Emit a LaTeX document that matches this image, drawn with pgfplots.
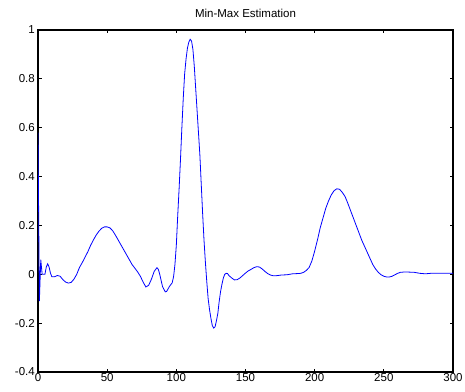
\documentclass[border=0pt]{standalone}
\usepackage{pgfplots}
\pgfplotsset{compat=1.18}
\usepackage{fontspec}
\setmainfont{Liberation Sans}
\begin{document}
\begin{tikzpicture}
\begin{axis}[
  scale only axis,
  width=415pt, height=342pt,
  xmin=0, xmax=300, ymin=-0.4, ymax=1,
  xtick={0,50,100,150,200,250,300},
  ytick={-0.4,-0.2,0,0.2,0.4,0.6,0.8,1},
  xticklabels={0,50,100,150,200,250,300},
  yticklabels={-0.4,-0.2,0,0.2,0.4,0.6,0.8,1},
  tick align=inside,
  major tick length=3.5pt,
  tick style={black, line width=0.8pt},
  axis line style={black, line width=1.2pt},
  ticklabel style={font=\fontsize{11.5}{13}\selectfont},
  xticklabel style={inner sep=1pt},
  yticklabel style={inner sep=3pt},
  title={Min-Max Estimation},
  title style={font=\fontsize{11.5}{13}\selectfont, at={(0.5,1)}, anchor=south, inner sep=0pt, yshift=6pt},
  clip=true,
]
\addplot[blue, line width=0.8pt, no marks] coordinates {
(0,0.58) (1,-0.11) (2,0.06) (3,0.0) (4,0.0) (5,0.0) (6,0.03) (7,0.043) (8,0.03) (9,0.005) (10,-0.01)
(12,-0.01) (14,-0.005) (16,-0.008) (18,-0.022) (20,-0.032) (22,-0.036) (24,-0.033) (26,-0.02) (28,0.0)
(30,0.028) (32,0.048) (34,0.07) (36,0.092) (38,0.118) (40,0.14) (42,0.16) (44,0.176) (46,0.188) (48,0.194)
(50,0.194) (52,0.19) (54,0.178) (56,0.16) (58,0.14) (60,0.12) (62,0.1) (64,0.08) (66,0.06) (68,0.04)
(70,0.025) (72,0.01) (74,-0.008) (76,-0.032) (78,-0.052) (80,-0.045) (82,-0.02) (84,0.012) (86,0.027)
(87,0.02) (88,0.0) (90,-0.05) (92,-0.072) (93,-0.07) (95,-0.05) (97,-0.035) (98,-0.01) (99,0.04)
(100,0.12) (101,0.24) (102,0.35) (103,0.47) (104,0.6) (105,0.72) (106,0.82) (107,0.88) (108,0.925)
(109,0.95) (110,0.962) (111,0.955) (112,0.92) (113,0.85) (114,0.76) (115,0.67) (116,0.58) (117,0.49)
(118,0.37) (119,0.25) (120,0.14) (121,0.05) (122,-0.03) (123,-0.1) (124,-0.145) (125,-0.18) (126,-0.21)
(127,-0.22) (128,-0.215) (129,-0.19) (130,-0.16) (131,-0.11) (132,-0.07) (133,-0.04) (134,-0.015)
(135,0.0) (136,0.004) (137,0.003) (138,-0.005) (140,-0.015) (142,-0.023) (144,-0.022) (146,-0.015)
(148,-0.005) (150,0.005) (152,0.014) (154,0.02) (156,0.027) (158,0.031) (160,0.03) (162,0.022)
(164,0.012) (166,0.003) (168,-0.003) (170,-0.006) (172,-0.006) (176,-0.003) (180,-0.002) (184,0.002)
(188,0.003) (190,0.004) (192,0.008) (194,0.016) (196,0.028) (198,0.055) (200,0.095) (202,0.14)
(204,0.19) (206,0.23) (208,0.27) (210,0.3) (212,0.325) (214,0.342) (216,0.35) (218,0.348) (220,0.335)
(222,0.318) (224,0.29) (226,0.26) (228,0.23) (230,0.2) (232,0.17) (234,0.14) (236,0.115) (238,0.09)
(240,0.065) (242,0.04) (244,0.022) (246,0.008) (248,-0.002) (250,-0.008) (252,-0.011) (254,-0.011)
(256,-0.008) (258,-0.002) (260,0.004) (262,0.008) (264,0.009) (268,0.009) (272,0.008) (276,0.004)
(280,0.002) (284,0.004) (290,0.004) (296,0.004) (300,0.004)
};
\end{axis}
\pgfresetboundingbox
\useasboundingbox ([xshift=-38pt,yshift=-19pt]current axis.south west) rectangle ([xshift=12pt,yshift=30pt]current axis.north east);
\end{tikzpicture}
\end{document}
